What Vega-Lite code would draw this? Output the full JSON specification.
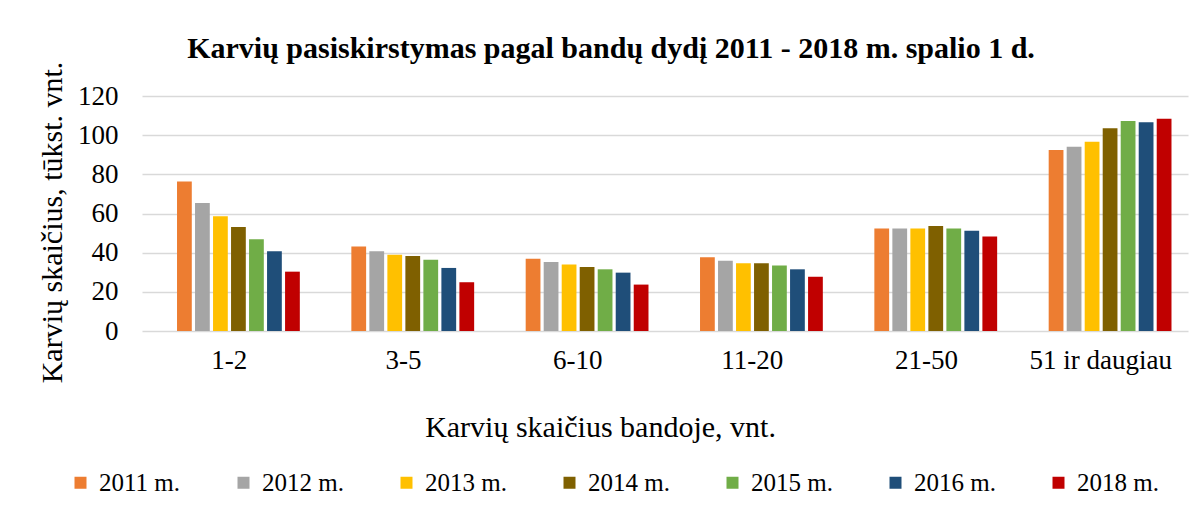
{
  "$schema": "https://vega.github.io/schema/vega-lite/v6.json",
  "autosize": {"type": "none"},
  "width": 1046,
  "height": 235,
  "padding": {"left": 142, "top": 96, "right": 14, "bottom": 177},
  "background": "white",
  "title": {
    "text": "Karvių pasiskirstymas pagal bandų dydį 2011 - 2018 m. spalio 1 d.",
    "font": "Liberation Serif",
    "fontSize": 30,
    "fontWeight": "bold",
    "color": "#000000",
    "anchor": "middle",
    "dx": -54,
    "dy": 21,
    "offset": 18
  },
  "data": {
    "values": [
      {"group": "1-2", "year": "2011 m.", "value": 76.4},
      {"group": "1-2", "year": "2012 m.", "value": 65.4},
      {"group": "1-2", "year": "2013 m.", "value": 58.6},
      {"group": "1-2", "year": "2014 m.", "value": 53.1},
      {"group": "1-2", "year": "2015 m.", "value": 46.8},
      {"group": "1-2", "year": "2016 m.", "value": 40.7},
      {"group": "1-2", "year": "2018 m.", "value": 30.3},
      {"group": "3-5", "year": "2011 m.", "value": 43.2},
      {"group": "3-5", "year": "2012 m.", "value": 40.7},
      {"group": "3-5", "year": "2013 m.", "value": 39.0},
      {"group": "3-5", "year": "2014 m.", "value": 38.3},
      {"group": "3-5", "year": "2015 m.", "value": 36.4},
      {"group": "3-5", "year": "2016 m.", "value": 32.2},
      {"group": "3-5", "year": "2018 m.", "value": 24.9},
      {"group": "6-10", "year": "2011 m.", "value": 36.9},
      {"group": "6-10", "year": "2012 m.", "value": 35.2},
      {"group": "6-10", "year": "2013 m.", "value": 34.0},
      {"group": "6-10", "year": "2014 m.", "value": 32.7},
      {"group": "6-10", "year": "2015 m.", "value": 31.5},
      {"group": "6-10", "year": "2016 m.", "value": 29.8},
      {"group": "6-10", "year": "2018 m.", "value": 23.7},
      {"group": "11-20", "year": "2011 m.", "value": 37.6},
      {"group": "11-20", "year": "2012 m.", "value": 35.9},
      {"group": "11-20", "year": "2013 m.", "value": 34.6},
      {"group": "11-20", "year": "2014 m.", "value": 34.6},
      {"group": "11-20", "year": "2015 m.", "value": 33.4},
      {"group": "11-20", "year": "2016 m.", "value": 31.5},
      {"group": "11-20", "year": "2018 m.", "value": 27.7},
      {"group": "21-50", "year": "2011 m.", "value": 52.4},
      {"group": "21-50", "year": "2012 m.", "value": 52.4},
      {"group": "21-50", "year": "2013 m.", "value": 52.4},
      {"group": "21-50", "year": "2014 m.", "value": 53.6},
      {"group": "21-50", "year": "2015 m.", "value": 52.4},
      {"group": "21-50", "year": "2016 m.", "value": 51.2},
      {"group": "21-50", "year": "2018 m.", "value": 48.2},
      {"group": "51 ir daugiau", "year": "2011 m.", "value": 92.4},
      {"group": "51 ir daugiau", "year": "2012 m.", "value": 94.1},
      {"group": "51 ir daugiau", "year": "2013 m.", "value": 96.7},
      {"group": "51 ir daugiau", "year": "2014 m.", "value": 103.5},
      {"group": "51 ir daugiau", "year": "2015 m.", "value": 107.2},
      {"group": "51 ir daugiau", "year": "2016 m.", "value": 106.6},
      {"group": "51 ir daugiau", "year": "2018 m.", "value": 108.4}
    ]
  },
  "mark": {"type": "bar"},
  "encoding": {
    "x": {
      "field": "group",
      "type": "nominal",
      "sort": null,
      "scale": {"paddingInner": 0.089, "paddingOuter": 0.0445},
      "axis": {
        "title": "Karvių skaičius bandoje, vnt.",
        "labelAngle": 0,
        "labelFont": "Liberation Serif",
        "labelFontSize": 27,
        "labelColor": "#000000",
        "labelPadding": 16,
        "ticks": false,
        "domain": false,
        "titleFont": "Liberation Serif",
        "titleFontSize": 30,
        "titleFontWeight": "normal",
        "titleColor": "#000000",
        "titlePadding": 39,
        "titleX": 458
      }
    },
    "xOffset": {
      "field": "year",
      "type": "nominal",
      "scale": {"paddingInner": 0.18, "paddingOuter": 1, "align": 0.757}
    },
    "y": {
      "field": "value",
      "type": "quantitative",
      "scale": {"domain": [0, 120]},
      "axis": {
        "title": "Karvių skaičius, tūkst. vnt.",
        "values": [0, 20, 40, 60, 80, 100, 120],
        "labelFont": "Liberation Serif",
        "labelFontSize": 27,
        "labelColor": "#000000",
        "labelPadding": 24,
        "ticks": false,
        "domain": false,
        "grid": true,
        "gridColor": "#d9d9d9",
        "gridWidth": 1.5,
        "titleFont": "Liberation Serif",
        "titleFontSize": 30,
        "titleFontWeight": "normal",
        "titleColor": "#000000",
        "titlePadding": 10,
        "titleY": 126
      }
    },
    "color": {
      "field": "year",
      "type": "nominal",
      "scale": {
        "domain": ["2011 m.", "2012 m.", "2013 m.", "2014 m.", "2015 m.", "2016 m.", "2018 m."],
        "range": ["#ED7D31", "#A5A5A5", "#FFC000", "#7F6000", "#70AD47", "#1F4E79", "#C00000"]
      },
      "legend": {
        "title": null,
        "orient": "none",
        "legendX": -74,
        "legendY": 374,
        "direction": "horizontal",
        "symbolType": "square",
        "symbolSize": 144,
        "symbolStrokeWidth": 0,
        "labelFont": "Liberation Serif",
        "labelFontSize": 25,
        "labelColor": "#000000",
        "labelOffset": 6,
        "columnPadding": 50
      }
    }
  },
  "config": {"view": {"stroke": null}}
}
